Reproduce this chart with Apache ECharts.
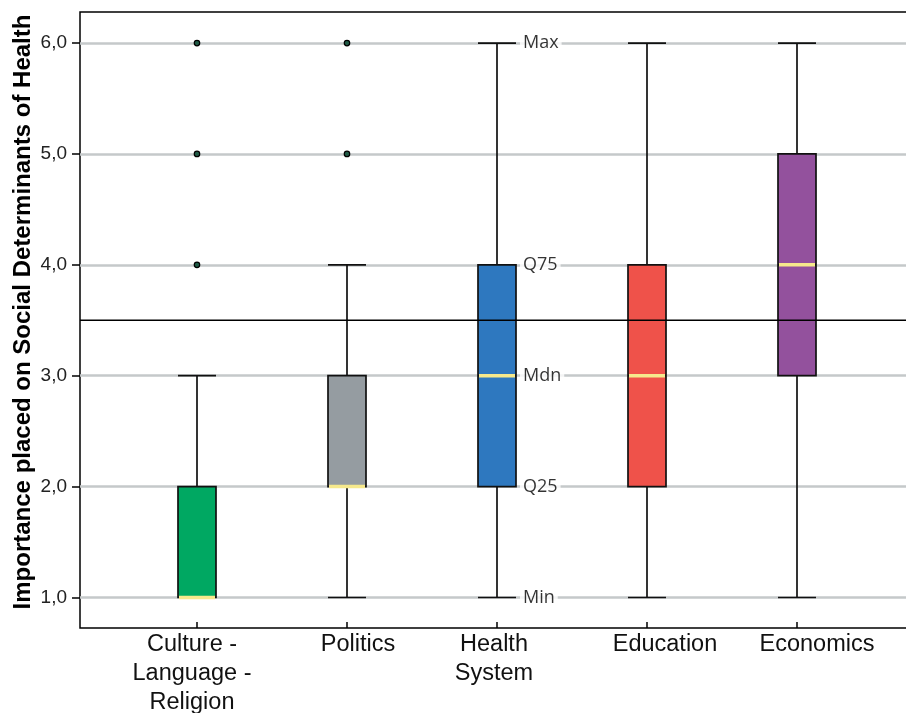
<!DOCTYPE html>
<html><head><meta charset="utf-8">
<script src="https://cdn.jsdelivr.net/npm/echarts@6/dist/echarts.min.js"></script>
<style>html,body{margin:0;padding:0;background:#fff}#c{width:906px;height:713px}</style>
</head><body><div id="c"></div>
<script>
const categories = ['Culture -\nLanguage -\nReligion', 'Politics', 'Health\nSystem', 'Education', 'Economics'];
// [min, Q25, median, Q75, max]
const cultureStats   = [1, 1, 1, 2, 3];
const politicsStats  = [1, 2, 2, 3, 4];
const healthStats    = [1, 2, 3, 4, 6];
const educationStats = [1, 2, 3, 4, 6];
const economicsStats = [1, 3, 4, 5, 6];
const boxColors = ['#00a862', '#959ca1', '#2e78bf', '#ef524a', '#93519d'];
const outliers = [[0, 4], [0, 5], [0, 6], [1, 5], [1, 6]];
const referenceValue = 3.5;
const yTicks = [1, 2, 3, 4, 5, 6];
const annotationNames = ['Min', 'Q25', 'Mdn', 'Q75', 'Max'];
const yMin = 0.725, yMax = 6.28;
// horizontal label nudges (px), styling only
const labelShift = [-5, 11, -3, 18, 20];

const stats = [cultureStats, politicsStats, healthStats, educationStats, economicsStats];
const chart = echarts.init(document.getElementById('c'));
const font = 'Liberation Sans, Arial, sans-serif';

const axisData = categories.map((c, i) => ({
  value: c,
  textStyle: {padding: labelShift[i] >= 0 ? [0, 0, 0, 2 * labelShift[i]] : [0, -2 * labelShift[i], 0, 0]}
}));

chart.setOption({
  animation: false,
  grid: [
    {left: 122, right: 34, top: 12, bottom: 85, outerBoundsMode: 'none', containLabel: false},
    {left: 80, right: -10, top: 12, bottom: 85, outerBoundsMode: 'none', containLabel: false,
     show: true, borderColor: '#000', borderWidth: 1.5, backgroundColor: 'transparent'}
  ],
  xAxis: [
    {type: 'category', gridIndex: 0, data: axisData,
     axisLine: {show: false},
     axisTick: {show: true, inside: true, length: 6, alignWithLabel: true, lineStyle: {color: '#000', width: 1.5}},
     axisLabel: {color: '#111', fontFamily: font, fontSize: 23.5, lineHeight: 29, margin: 2, interval: 0},
     splitLine: {show: false}},
    {type: 'value', gridIndex: 1, min: 0, max: 1, show: false}
  ],
  yAxis: [
    {type: 'value', gridIndex: 0, min: yMin, max: yMax, show: false},
    {type: 'value', gridIndex: 1, min: yMin, max: yMax,
     axisLine: {show: false},
     axisTick: {show: true, length: 8, customValues: yTicks, lineStyle: {color: '#000', width: 1.5}},
     axisLabel: {customValues: yTicks, color: '#222', fontFamily: font, fontSize: 19, margin: 13,
                 formatter: v => v.toFixed(1).replace('.', ',')},
     splitLine: {show: true, lineStyle: {color: '#c5c9ca', width: 2.5}},
     name: 'Importance placed on Social Determinants of Health',
     nameLocation: 'middle', nameGap: 45, nameMoveOverlap: false,
     nameTextStyle: {fontFamily: font, fontWeight: 'bold', fontSize: 24, color: '#000', padding: [0, 0, 0, 16]}}
  ],
  series: [
    {type: 'boxplot', xAxisIndex: 0, yAxisIndex: 0, boxWidth: [38, 38], z: 3,
     data: stats.map((s, i) => ({value: s, itemStyle: {color: boxColors[i], borderColor: '#111', borderWidth: 1.7}})),
     emphasis: {disabled: true}},
    {type: 'scatter', xAxisIndex: 0, yAxisIndex: 0, z: 4, symbol: 'rect', symbolSize: [36, 3.5],
     itemStyle: {color: '#f6e98c', opacity: 1},
     data: stats.map((s, i) => [i, s[2]])},
    {type: 'scatter', xAxisIndex: 0, yAxisIndex: 0, z: 4, symbol: 'circle', symbolSize: 5.5,
     itemStyle: {color: '#1f5a45', borderColor: '#000', borderWidth: 1.2, opacity: 1},
     data: outliers},
    {type: 'line', xAxisIndex: 1, yAxisIndex: 1, z: 6, symbol: 'none',
     lineStyle: {color: '#000', width: 1.5},
     data: [[0, referenceValue], [1, referenceValue]]},
    {type: 'scatter', xAxisIndex: 0, yAxisIndex: 0, z: 8, symbolSize: 0,
     data: healthStats.map((v, i) => ({value: [2, v], name: annotationNames[i]})),
     label: {show: true, position: 'right', distance: 23, formatter: p => p.name,
             fontFamily: 'Open Sans, sans-serif', fontSize: 18, color: '#000',
             backgroundColor: '#fff', padding: [0, 3]}}
  ]
});
</script></body></html>
